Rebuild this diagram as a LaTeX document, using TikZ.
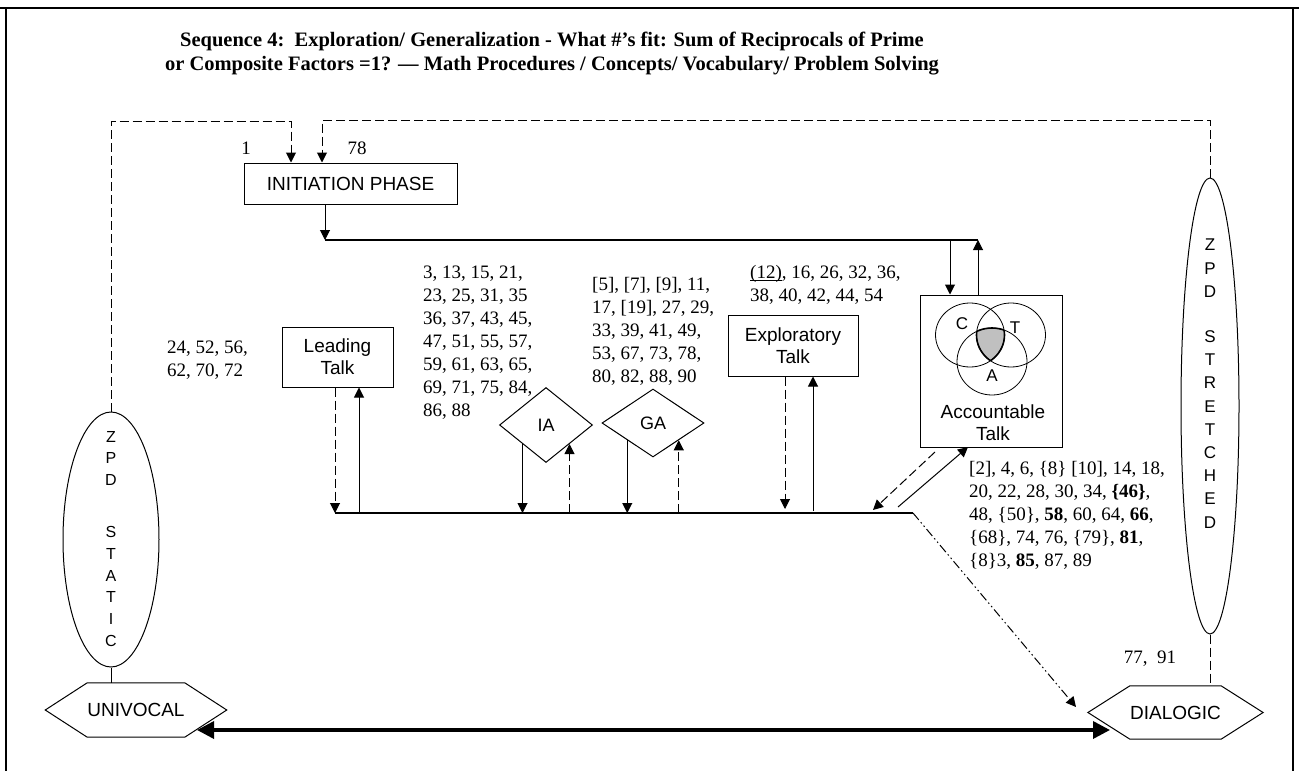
\documentclass[tikz,border=0pt]{standalone}
\usepackage{fontspec}
\setmainfont{Liberation Serif}
\setsansfont{Liberation Sans}
\usetikzlibrary{arrows.meta,shapes.geometric,calc}
\definecolor{shadegray}{RGB}{192,192,192}
\begin{document}
\begin{tikzpicture}[x=1pt,y=-1pt,
  >={Triangle[length=10pt,width=10pt]},
  conn/.style={line width=1pt},
  dsh/.style={line width=1pt,dash pattern=on 9pt off 4pt},
  thickline/.style={line width=2.5pt},
  sfbox/.style={draw,line width=1pt,inner sep=0pt,align=center,font=\sffamily\fontsize{19}{22}\selectfont},
  sflbl/.style={inner sep=0pt,align=center,font=\sffamily\fontsize{19}{22}\selectfont},
  hexin/.style={inner sep=0pt,font=\sffamily\fontsize{19}{22}\selectfont},
  nums/.style={inner sep=0pt,align=left,anchor=north west,font=\fontsize{19}{23}\selectfont},
  numsb/.style={inner sep=0pt,align=left,anchor=north west,font=\fontsize{19}{23}\selectfont},
  ttl/.style={inner sep=0pt,font=\bfseries\fontsize{20.5}{24}\selectfont},
  zpd/.style={draw,ellipse,line width=1pt,inner sep=0pt},
  dmd/.style={draw,diamond,line width=1pt,inner sep=0pt,font=\sffamily\fontsize{18}{22}\selectfont},
  bigtip/.tip={Triangle[length=17pt,width=17pt]}
]
\useasboundingbox (0,0) rectangle (1299,771);
% frame
\draw[line width=2pt] (0,8) -- (1299,8);
\draw[line width=2pt] (6,8) -- (6,771);
\draw[line width=2pt] (1293,8) -- (1293,771);

% title
\node[ttl] (t1) at (552,41) {Sequence 4:\ \ Exploration/ Generalization - What \#’s fit: Sum of Reciprocals of Prime};
\node[ttl] (t2) at (552,66) {or Composite Factors =1? — Math Procedures / Concepts/ Vocabulary/ Problem Solving};

% boxes
\node[sfbox,minimum width=213,minimum height=41] (init) at (350.5,183.5) {INITIATION PHASE};
\node[sfbox,minimum width=111,minimum height=60] (lead) at (337.5,357) {Leading\\Talk};
\node[sfbox,minimum width=130,minimum height=61] (expl) at (793,345.5) {Exploratory\\Talk};
\node[draw,line width=1pt,minimum width=142,minimum height=152,inner sep=0pt] (acc) at (991,371) {};
\node[dmd,minimum width=93,minimum height=75] (ia) at (546,425) {IA};
\node[dmd,minimum width=102,minimum height=68] (ga) at (653,423) {GA};

% Venn
\begin{scope}
  \clip (970,335) ellipse [x radius=34.5,y radius=32];
  \clip (1011,335) ellipse [x radius=34.5,y radius=32];
  \fill[shadegray] (992,361.5) ellipse [x radius=35,y radius=33.5];
\end{scope}
\begin{scope}
  \clip (970,335) ellipse [x radius=34.5,y radius=32];
  \clip (1011,335) ellipse [x radius=34.5,y radius=32];
  \draw[line width=1.6pt] (992,361.5) ellipse [x radius=35,y radius=33.5];
\end{scope}
\begin{scope}
  \clip (970,335) ellipse [x radius=34.5,y radius=32];
  \clip (992,361.5) ellipse [x radius=35,y radius=33.5];
  \draw[line width=1.6pt] (1011,335) ellipse [x radius=34.5,y radius=32];
\end{scope}
\begin{scope}
  \clip (1011,335) ellipse [x radius=34.5,y radius=32];
  \clip (992,361.5) ellipse [x radius=35,y radius=33.5];
  \draw[line width=1.6pt] (970,335) ellipse [x radius=34.5,y radius=32];
\end{scope}
\draw[line width=0.8pt] (970,335) ellipse [x radius=34.5,y radius=32];
\draw[line width=0.8pt] (1011,335) ellipse [x radius=34.5,y radius=32];
\draw[line width=0.8pt] (992,361.5) ellipse [x radius=35,y radius=33.5];
\node[sflbl,font=\sffamily\fontsize{17}{20}\selectfont] (vc) at (962,324) {C};
\node[sflbl,font=\sffamily\fontsize{17}{20}\selectfont] (vt) at (1015,328) {T};
\node[sflbl,font=\sffamily\fontsize{17}{20}\selectfont] (va) at (992,376) {A};
\node[sflbl] (acct) at (993,423) {Accountable\\Talk};

% ZPD ellipses
\node[zpd,minimum width=96,minimum height=255] (zpds) at (111,539.5) {};
\node[inner sep=0pt,align=center,anchor=north,font=\sffamily\fontsize{16}{21.7}\selectfont] (zpdst) at (111,431) {Z\\P\\D\\[30.3pt]S\\T\\A\\T\\I\\C};
\node[zpd,minimum width=58,minimum height=456] (zpdr) at (1210,406) {};
\node[inner sep=0pt,align=center,anchor=north,font=\sffamily\fontsize{17}{23.2}\selectfont] (zpdrt) at (1210,239) {Z\\P\\D\\[21.9pt]S\\T\\R\\E\\T\\C\\H\\E\\D};

% hexagons
\node[hexin,minimum width=87,minimum height=54] (univ) at (136,710) {UNIVOCAL};
\draw[conn] (univ.north west) -- (univ.north east) -- ($(univ.east)+(42,0)$) -- (univ.south east) -- (univ.south west) -- ($(univ.west)+(-42,0)$) -- cycle;
\node[hexin,minimum width=85,minimum height=53] (dial) at (1175.5,712.5) {DIALOGIC};
\draw[conn] (dial.north west) -- (dial.north east) -- ($(dial.east)+(42,0)$) -- (dial.south east) -- (dial.south west) -- ($(dial.west)+(-42,0)$) -- cycle;

% labels
\node[inner sep=0pt,font=\fontsize{19}{22}\selectfont] (l1) at (246,148) {1};
\node[inner sep=0pt,font=\fontsize{19}{22}\selectfont] (l78) at (357,148) {78};
\node[inner sep=0pt,font=\fontsize{19}{22}\selectfont] (l77) at (1150,659) {77,\ \ 91};

\node[nums] (b0) at (167,340.6) {24, 52, 56,\\62, 70, 72};
\node[nums] (b1) at (423,265.6) {3, 13, 15, 21,\\23, 25, 31, 35\\36, 37, 43, 45,\\47, 51, 55, 57,\\59, 61, 63, 65,\\69, 71, 75, 84,\\86, 88};
\node[nums] (b2) at (592,277.6) {[5], [7], [9], 11,\\17, [19], 27, 29,\\33, 39, 41, 49,\\53, 67, 73, 78,\\80, 82, 88, 90};
\node[nums] (b3) at (750,265.6) {\underline{\smash{(12)}}, 16, 26, 32, 36,\\38, 40, 42, 44, 54};
\node[numsb] (b4) at (969,461.6) {[2], 4, 6, \{8\} [10], 14, 18,\\20, 22, 28, 30, 34, \textbf{\{46\}},\\48, \{50\}, \textbf{58}, 60, 64, \textbf{66},\\\{68\}, 74, 76, \{79\}, \textbf{81},\\\{8\}3, \textbf{85}, 87, 89};

% coordinates
\coordinate (topL) at (291,121);
\coordinate (topR) at (322,120);
\coordinate (lineL) at (325,240);
\coordinate (lineR) at (978,240);
\coordinate (accIn) at (950,240);
\coordinate (bL) at (335,513);
\coordinate (bR) at (913,513);
\coordinate (dgA) at (935,452);
\coordinate (dgB) at (873,510);
\coordinate (dgC) at (898,507);
\coordinate (dgD) at (968,447);
\coordinate (ddTip) at (1076,707);
\coordinate (ba1) at (197,730);
\coordinate (ba2) at (1110,730);

% dashed feedback lines
\draw[dsh,->] (zpds.north) |- (topL) -- (topL |- init.north);
\draw[dsh,->] (zpdr.north) |- (topR) -- (topR |- init.north);
\draw[dsh] (zpdr.south) -- (zpdr.south |- dial.north);
\draw[conn] (zpds.south) -- (zpds.south |- univ.north);

% top line
\draw[conn,->] (init.south -| lineL) -- (lineL);
\draw[thickline] (lineL) -- (lineR);
\draw[conn,->] (accIn) -- (accIn |- acc.north);
\draw[conn,->] (lineR |- acc.north) -- (lineR);

% bottom line
\draw[thickline] (bL) -- (bR);
\draw[dsh,->] (lead.south -| bL) -- (bL);
\draw[conn,->] (359,513) -- (lead.south -| 359,0);
\draw[conn,->] (ia.south west) -- (ia.south west |- bL);
\draw[dsh,->] (ia.south east |- bL) -- (ia.south east);
\draw[conn,->] (ga.south west) -- (ga.south west |- bL);
\draw[dsh,->] (ga.south east |- bL) -- (ga.south east);
\draw[dsh,->] (expl.south -| 785,0) -- (785,509);
\draw[conn,->] (813,511) -- (expl.south -| 813,0);

% diagonals
\draw[dsh,->] (dgA) -- (dgB);
\draw[conn,->] (dgC) -- (dgD);
\draw[line width=1pt,dash pattern=on 9pt off 3pt on 1.5pt off 3pt on 1.5pt off 3pt,->] (bR) -- (ddTip);

% bottom double arrow
\draw[line width=3.5pt,{bigtip}-{bigtip}] (ba1) -- (ba2);
\end{tikzpicture}
\end{document}
